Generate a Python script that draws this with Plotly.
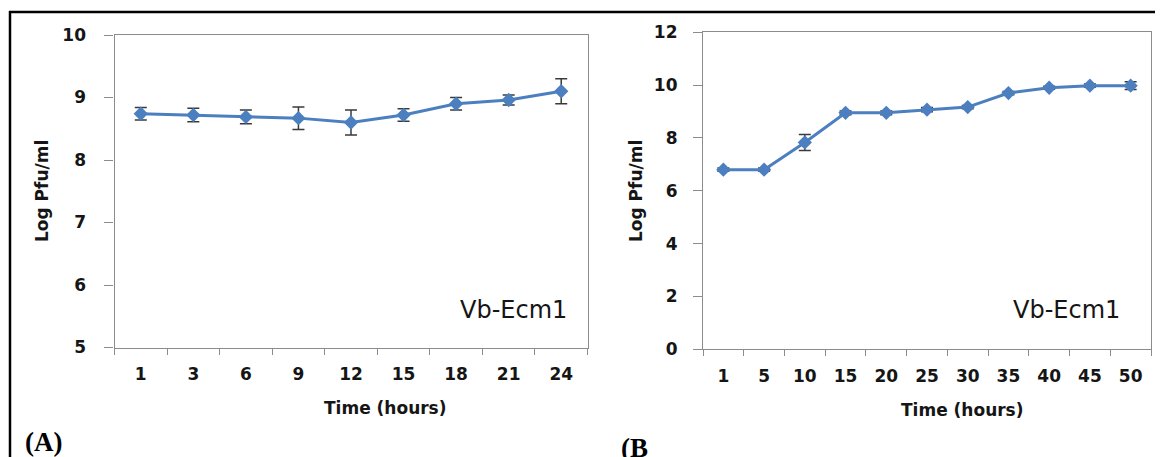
import plotly.graph_objects as go

# ---- data ----
time_a = ["1", "3", "6", "9", "12", "15", "18", "21", "24"]
log_pfu_a = [8.74, 8.72, 8.69, 8.67, 8.60, 8.72, 8.90, 8.96, 9.10]
err_a = [0.10, 0.11, 0.11, 0.18, 0.20, 0.10, 0.10, 0.08, 0.20]

time_b = ["1", "5", "10", "15", "20", "25", "30", "35", "40", "45", "50"]
log_pfu_b = [6.80, 6.80, 7.83, 8.95, 8.95, 9.07, 9.17, 9.70, 9.90, 9.98, 9.98]
err_b = [0.06, 0.06, 0.30, 0.07, 0.07, 0.08, 0.06, 0.06, 0.06, 0.06, 0.15]

y_ticks_a = [5, 6, 7, 8, 9, 10]
y_ticks_b = [0, 2, 4, 6, 8, 10, 12]

W, H = 1163, 457
OFF = 8  # page offset of the figure inside the browser window

def px(x):
    return (x - OFF) / W

def py(y):
    return 1 - (y - OFF) / H

LINE = "#4B7FC0"
AXIS = "#8C8C8C"
TXT = "#151515"
FONT = "DejaVu Sans"

fig = go.Figure()
fig.add_trace(go.Scatter(
    x=time_a, y=log_pfu_a, mode="lines+markers",
    line=dict(color=LINE, width=3),
    marker=dict(symbol="diamond", size=11, color=LINE),
    error_y=dict(type="data", array=err_a, visible=True, color="#3A3A3A", thickness=1.5, width=6),
    xaxis="x", yaxis="y", showlegend=False))
fig.add_trace(go.Scatter(
    x=time_b, y=log_pfu_b, mode="lines+markers",
    line=dict(color=LINE, width=3),
    marker=dict(symbol="diamond", size=11, color=LINE),
    error_y=dict(type="data", array=err_b, visible=True, color="#3A3A3A", thickness=1.5, width=6),
    xaxis="x2", yaxis="y2", showlegend=False))

tickfont = dict(family=FONT, size=17, color=TXT, weight="bold")
titlefont = dict(family=FONT, size=17, color=TXT, weight="bold")

common_x = dict(type="category", tickson="boundaries", ticks="outside", ticklen=6,
                tickcolor=AXIS, tickwidth=1.2, showline=True, linecolor=AXIS, linewidth=1.2,
                mirror=True, showgrid=False, zeroline=False, tickfont=tickfont,
                ticklabelstandoff=11, fixedrange=True, automargin=False)
common_y = dict(ticks="outside", ticklen=9, tickcolor=AXIS, tickwidth=1.2, showline=True,
                linecolor=AXIS, linewidth=1.2, mirror=True, showgrid=False, zeroline=False,
                tickfont=tickfont, fixedrange=True, automargin=False)

fig.update_layout(
    width=W, height=H, autosize=False,
    margin=dict(l=0, r=0, t=0, b=0, autoexpand=False),
    paper_bgcolor="white", plot_bgcolor="white",
    xaxis=dict(domain=[px(114.5), px(587.5)], anchor="y", range=[-0.5, len(time_a) - 0.5], **common_x),
    yaxis=dict(domain=[py(347.5), py(35)], anchor="x", range=[5, 10], tickvals=y_ticks_a,
               ticklabelstandoff=15, **common_y),
    xaxis2=dict(domain=[px(703), px(1151)], anchor="y2", range=[-0.5, len(time_b) - 0.5], **common_x),
    yaxis2=dict(domain=[py(349.3), py(32.3)], anchor="x2", range=[0, 12], tickvals=y_ticks_b,
                ticklabelstandoff=12, **common_y),
)

ann = []
# y-axis titles
ann.append(dict(text="Log Pfu/ml", x=px(42), y=py(191), xref="paper", yref="paper", textangle=-90,
                showarrow=False, font=titlefont, xanchor="center", yanchor="middle"))
ann.append(dict(text="Log Pfu/ml", x=px(636), y=py(191), xref="paper", yref="paper", textangle=-90,
                showarrow=False, font=titlefont, xanchor="center", yanchor="middle"))
# x-axis titles
ann.append(dict(text="Time (hours)", x=px(385), y=py(408), xref="paper", yref="paper",
                showarrow=False, font=titlefont, xanchor="center", yanchor="middle"))
ann.append(dict(text="Time (hours)", x=px(962), y=py(410), xref="paper", yref="paper",
                showarrow=False, font=titlefont, xanchor="center", yanchor="middle"))
# strain labels
ann.append(dict(text="Vb-Ecm1", x=px(569), y=py(310), xref="paper", yref="paper",
                showarrow=False, font=dict(family=FONT, size=24, color=TXT),
                xanchor="right", yanchor="middle"))
ann.append(dict(text="Vb-Ecm1", x=px(1122), y=py(310), xref="paper", yref="paper",
                showarrow=False, font=dict(family=FONT, size=24, color=TXT),
                xanchor="right", yanchor="middle"))
# panel letters
ann.append(dict(text="(A)", x=px(23), y=py(425), xref="paper", yref="paper",
                showarrow=False, font=dict(family="Liberation Serif", size=27, color="black", weight="bold"),
                xanchor="left", yanchor="top"))
ann.append(dict(text="(B", x=px(619), y=py(431), xref="paper", yref="paper",
                showarrow=False, font=dict(family="Liberation Serif", size=27, color="black", weight="bold"),
                xanchor="left", yanchor="top"))
fig.update_layout(annotations=ann)

# outer frame (top and left edges)
fig.add_shape(type="line", xref="paper", yref="paper", x0=px(9), x1=1, y0=py(12), y1=py(12),
              line=dict(color="black", width=2.5))
fig.add_shape(type="line", xref="paper", yref="paper", x0=px(10), x1=px(10), y0=py(11), y1=0,
              line=dict(color="black", width=2.5))

fig.write_html("out.html")
